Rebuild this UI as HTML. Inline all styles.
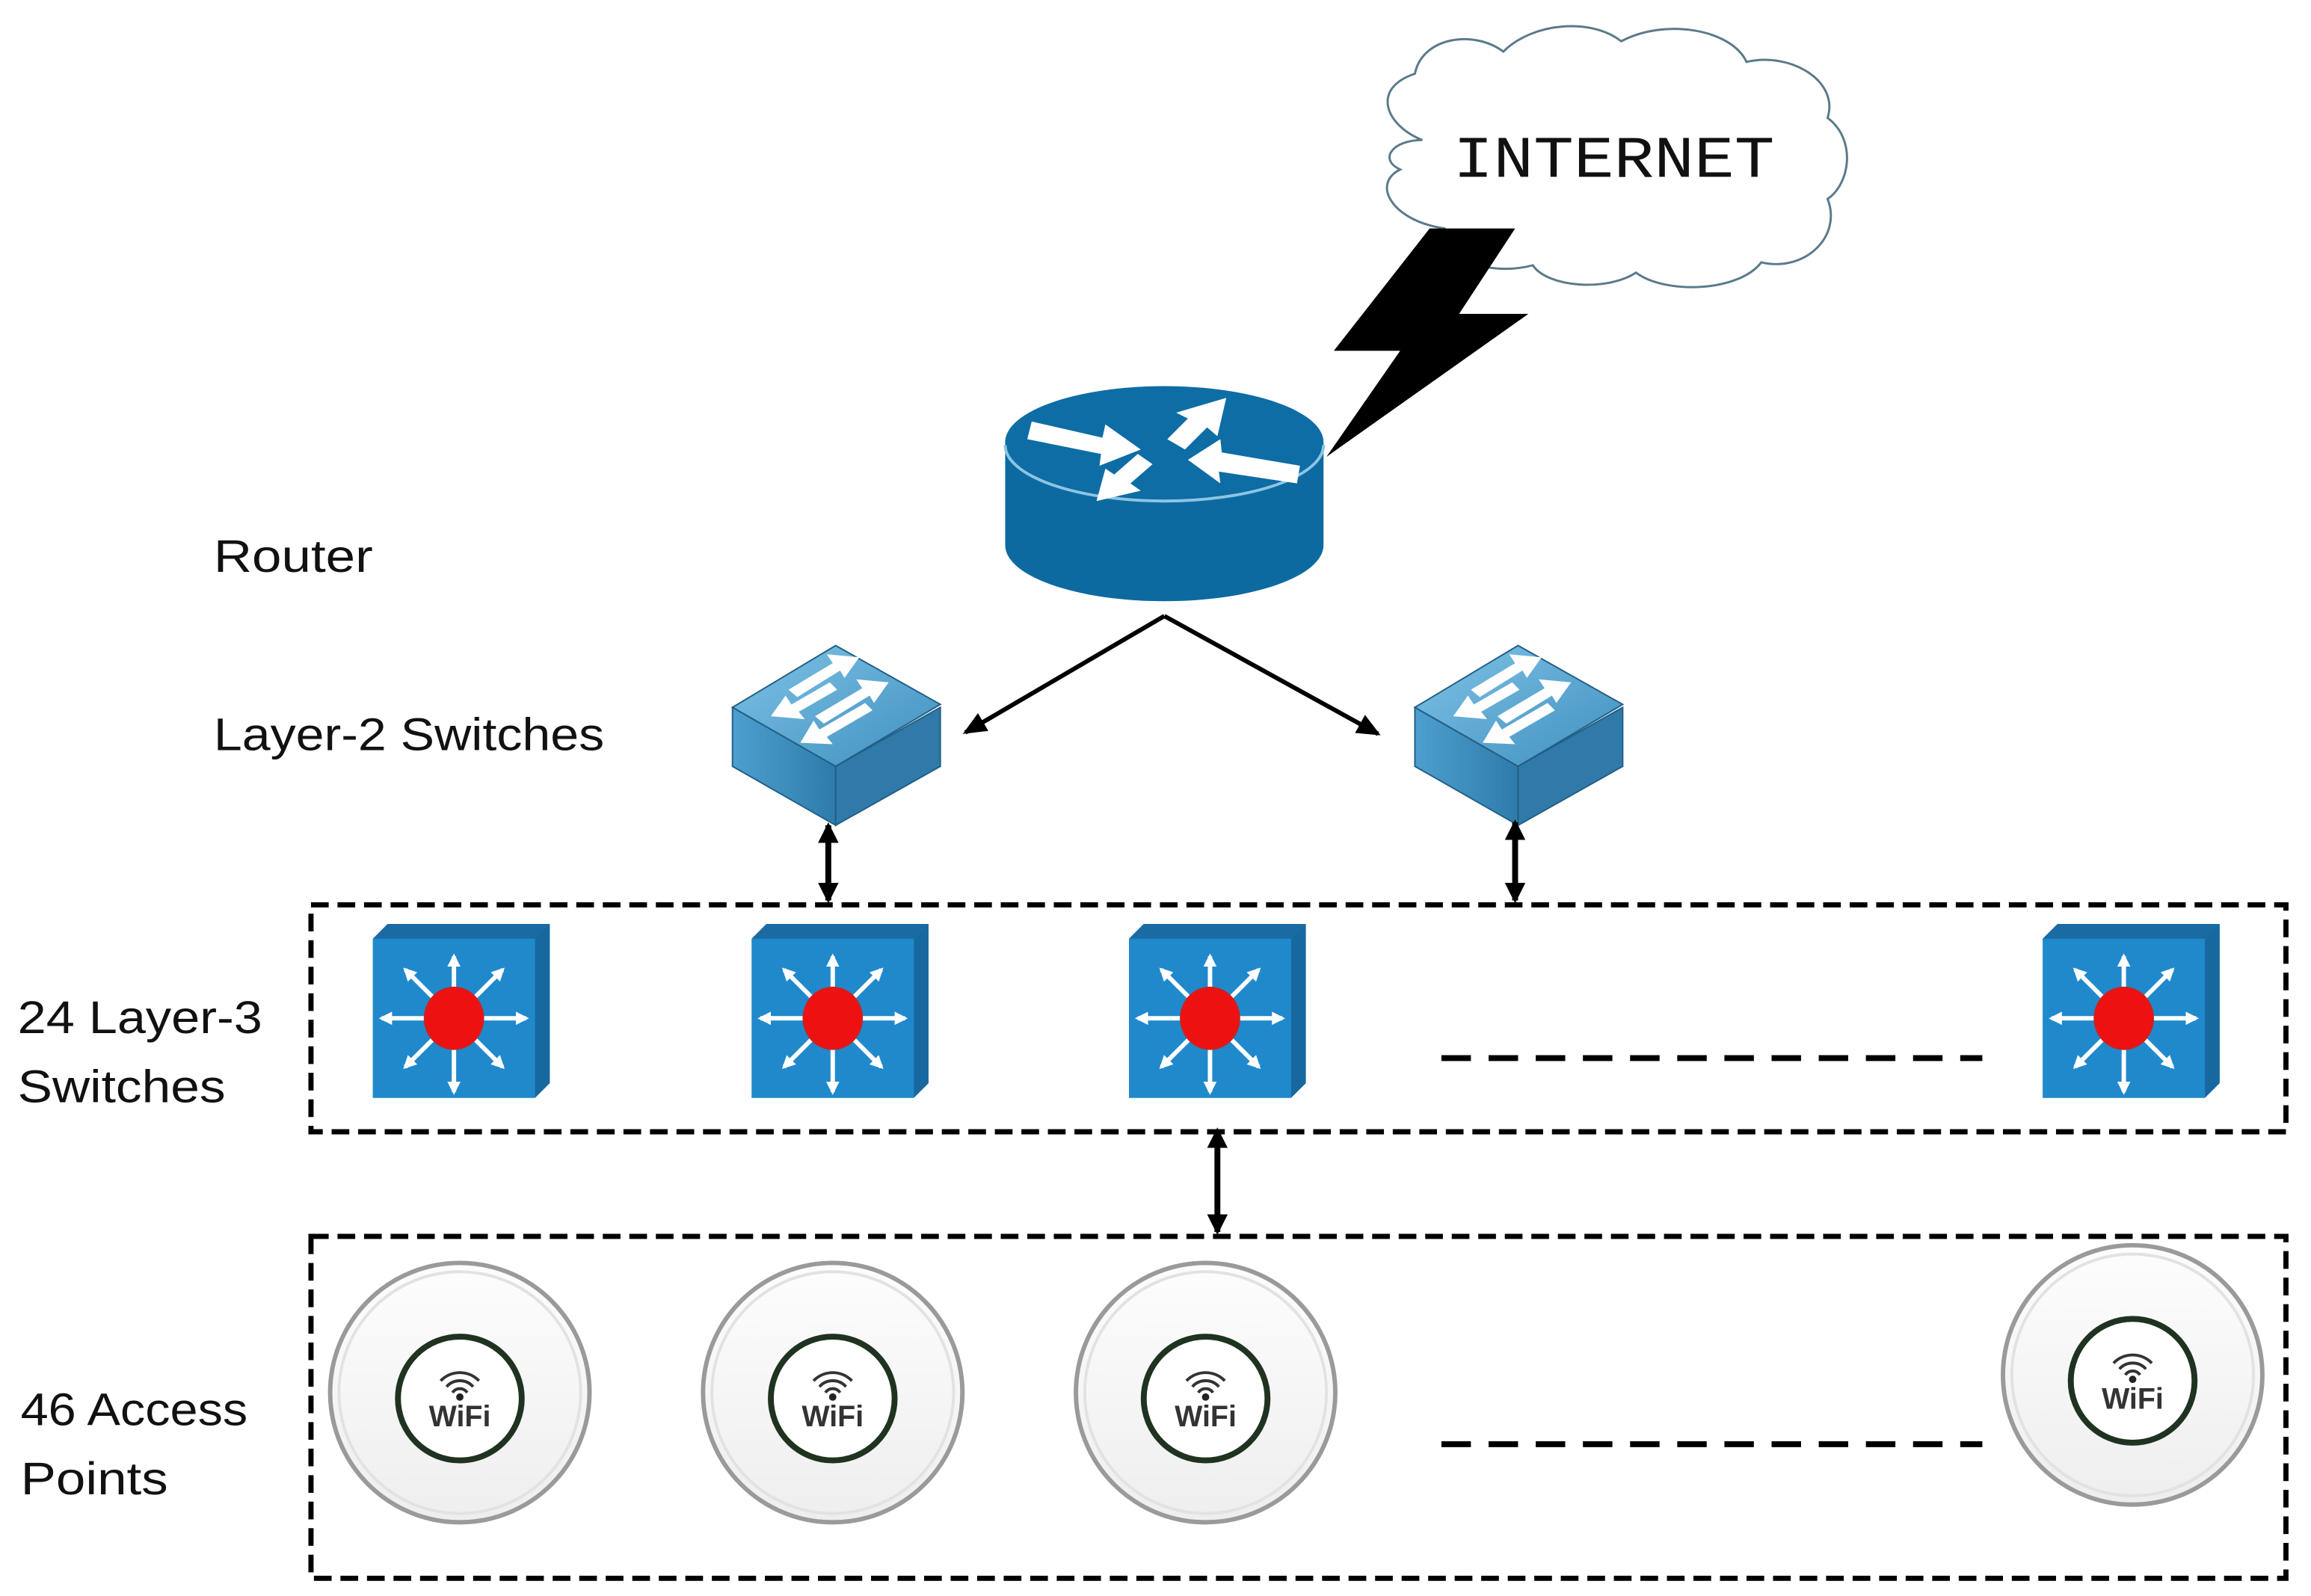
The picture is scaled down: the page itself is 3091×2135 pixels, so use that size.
<!DOCTYPE html>
<html><head><meta charset="utf-8"><style>html,body{margin:0;padding:0;background:#fff}svg{display:block}</style></head>
<body>
<svg width="3091" height="2135" viewBox="0 0 1568 1083" xmlns="http://www.w3.org/2000/svg">
<defs>
<marker id="ah" markerWidth="16" markerHeight="14" refX="14" refY="7" orient="auto" markerUnits="userSpaceOnUse"><path d="M0,0 L16,7 L0,14 z" fill="#000"/></marker>
<marker id="ah2" markerWidth="14" markerHeight="14" refX="12" refY="7" orient="auto-start-reverse" markerUnits="userSpaceOnUse"><path d="M0,0 L14,7 L0,14 z" fill="#000"/></marker>
<marker id="wa" markerWidth="9" markerHeight="9" refX="7" refY="4.5" orient="auto" markerUnits="userSpaceOnUse"><path d="M0,0 L9,4.5 L0,9 z" fill="#fff"/></marker>
<linearGradient id="l2t" x1="0" y1="0" x2="1" y2="1"><stop offset="0" stop-color="#7fc3e6"/><stop offset="1" stop-color="#3f8fbf"/></linearGradient>
<linearGradient id="l2l" x1="0" y1="0" x2="1" y2="0"><stop offset="0" stop-color="#4d9fcf"/><stop offset="1" stop-color="#2e7bab"/></linearGradient>
<linearGradient id="ap" x1="0" y1="0" x2="0" y2="1"><stop offset="0" stop-color="#fdfdfd"/><stop offset="1" stop-color="#eeeeee"/></linearGradient>
<g id="l2">
 <path d="M2,42 L72,82 L72,122 L2,82 z" fill="url(#l2l)" stroke="#235f86" stroke-width="1"/>
 <path d="M72,82 L143,42 L143,82 L72,122 z" fill="#2f7aa8" stroke="#235f86" stroke-width="1"/>
 <path d="M2,42 L72,0 L143,40 L72,82 z" fill="url(#l2t)" stroke="#235f86" stroke-width="1"/>
 <g fill="#fff">
  <path d="M40,30 L70,12 L66,6 L88,8 L78,22 L75,17 L46,35 z"/>
  <path d="M28,48 L38,34 L42,40 L68,25 L73,30 L47,45 L51,50 z"/>
  <path d="M58,48 L90,29 L86,23 L108,25 L98,39 L95,34 L64,53 z"/>
  <path d="M48,66 L57,51 L61,57 L92,39 L97,44 L66,62 L70,67 z"/>
 </g>
</g>
<g id="l3">
 <path d="M0,10 L10,0 L120,0 L120,108 L110,118 L0,118 z" fill="#1f7fbf"/>
 <path d="M0,10 L10,0 L120,0 L110,10 z" fill="#1a6aa3"/>
 <path d="M110,10 L120,0 L120,108 L110,118 z" fill="#1868a0"/>
 <rect x="0" y="10" width="110" height="108" fill="#2089cc"/>
 <g stroke="#fff" stroke-width="3" marker-end="url(#wa)">
  <line x1="55" y1="64" x2="55" y2="22"/><line x1="55" y1="64" x2="55" y2="114"/>
  <line x1="55" y1="64" x2="6" y2="64"/><line x1="55" y1="64" x2="104" y2="64"/>
  <line x1="55" y1="64" x2="22" y2="31"/><line x1="55" y1="64" x2="88" y2="31"/>
  <line x1="55" y1="64" x2="22" y2="97"/><line x1="55" y1="64" x2="88" y2="97"/>
 </g>
 <ellipse cx="55" cy="64" rx="20" ry="21" fill="#ee1111" stroke="#c22" stroke-width="1"/>
</g>
<g id="apg">
 <ellipse cx="0" cy="0" rx="88" ry="88" fill="url(#ap)" stroke="#9a9a9a" stroke-width="3"/>
 <ellipse cx="0" cy="0" rx="82" ry="82" fill="none" stroke="#e2e2e2" stroke-width="2"/>
 <circle cx="0" cy="4" r="42" fill="#fff" stroke="#1f3320" stroke-width="4"/>
 <path d="M-13,-8 A18,18 0 0 1 13,-8 M-9,-4 A12,12 0 0 1 9,-4 M-5,0 A6,6 0 0 1 5,0" fill="none" stroke="#333" stroke-width="2"/>
 <circle cx="0" cy="3" r="2.5" fill="#222"/>
 <text x="0" y="23" text-anchor="middle" font-family="Liberation Sans, sans-serif" font-weight="bold" font-size="20" fill="#333">WiFi</text>
</g>
</defs>
<rect width="1568" height="1083" fill="#fff"/>

<path d="M965,95 C940,85 930,60 960,50 C965,25 1000,20 1020,35 C1040,15 1080,12 1100,28 C1130,12 1175,20 1185,42 C1215,35 1248,55 1240,80 C1260,95 1255,125 1240,135 C1250,160 1225,185 1195,178 C1180,198 1130,200 1110,185 C1090,198 1050,195 1040,180 C1010,188 975,175 980,155 C945,150 930,125 950,115 C935,108 945,95 965,95 z" fill="#fff" stroke="#5a7a8a" stroke-width="1.5"/>
<text x="1095" y="120" text-anchor="middle" font-family="Liberation Mono, monospace" font-size="40" fill="#111" textLength="218" lengthAdjust="spacingAndGlyphs">INTERNET</text>

<polygon points="970,155 1028,155 990,213 1037,213 900,310 950,238 905,238" fill="#000"/>

<path d="M682,300 L682,370 A108,38 0 0 0 898,370 L898,300 z" fill="#0d6aa0"/>
<ellipse cx="790" cy="300" rx="108" ry="38" fill="#0e6da5"/>
<path d="M682,302 A108,38 0 0 0 898,302" fill="none" stroke="#8cc4e4" stroke-width="2"/>
<g fill="#fff">
 <path d="M700,286 L748,297 L750,288 L774,305 L746,316 L747,308 L697,298 z"/>
 <path d="M792,298 L806,284 L798,280 L832,270 L826,296 L819,290 L804,305 z"/>
 <path d="M806,312 L828,298 L829,307 L882,316 L880,328 L827,320 L828,328 z"/>
 <path d="M782,315 L767,328 L774,333 L744,340 L750,318 L756,322 L772,308 z"/>
</g>

<g font-family="Liberation Sans, sans-serif" font-size="31" fill="#111">
 <text x="145" y="388" textLength="108" lengthAdjust="spacingAndGlyphs">Router</text>
 <text x="145" y="509" textLength="265" lengthAdjust="spacingAndGlyphs">Layer-2 Switches</text>
 <text x="12" y="701" textLength="166" lengthAdjust="spacingAndGlyphs">24 Layer-3</text>
 <text x="12" y="748" textLength="141" lengthAdjust="spacingAndGlyphs">Switches</text>
 <text x="14" y="967" textLength="154" lengthAdjust="spacingAndGlyphs">46 Access</text>
 <text x="14" y="1014" textLength="100" lengthAdjust="spacingAndGlyphs">Points</text>
</g>

<line x1="790" y1="418" x2="655" y2="497" stroke="#000" stroke-width="3" marker-end="url(#ah)"/>
<line x1="790" y1="418" x2="935" y2="498" stroke="#000" stroke-width="3" marker-end="url(#ah)"/>

<use href="#l2" x="495" y="438"/>
<use href="#l2" x="958" y="438"/>

<line x1="562" y1="560" x2="562" y2="611" stroke="#000" stroke-width="4" marker-start="url(#ah2)" marker-end="url(#ah2)"/>
<line x1="1028" y1="558" x2="1028" y2="611" stroke="#000" stroke-width="4" marker-start="url(#ah2)" marker-end="url(#ah2)"/>
<line x1="826" y1="767" x2="826" y2="836" stroke="#000" stroke-width="4" marker-start="url(#ah2)" marker-end="url(#ah2)"/>

<rect x="211" y="614" width="1340" height="154" fill="none" stroke="#000" stroke-width="3.5" stroke-dasharray="12,6"/>
<rect x="211" y="839" width="1340" height="232" fill="none" stroke="#000" stroke-width="3.5" stroke-dasharray="12,6"/>

<use href="#l3" x="253" y="627"/>
<use href="#l3" x="510" y="627"/>
<use href="#l3" x="766" y="627"/>
<use href="#l3" x="1386" y="627"/>

<line x1="978" y1="718" x2="1345" y2="718" stroke="#000" stroke-width="4" stroke-dasharray="20,12"/>
<line x1="978" y1="980" x2="1345" y2="980" stroke="#000" stroke-width="4" stroke-dasharray="20,12"/>

<use href="#apg" x="312" y="945"/>
<use href="#apg" x="565" y="945"/>
<use href="#apg" x="818" y="945"/>
<use href="#apg" x="1447" y="933"/>
</svg>
</body></html>
